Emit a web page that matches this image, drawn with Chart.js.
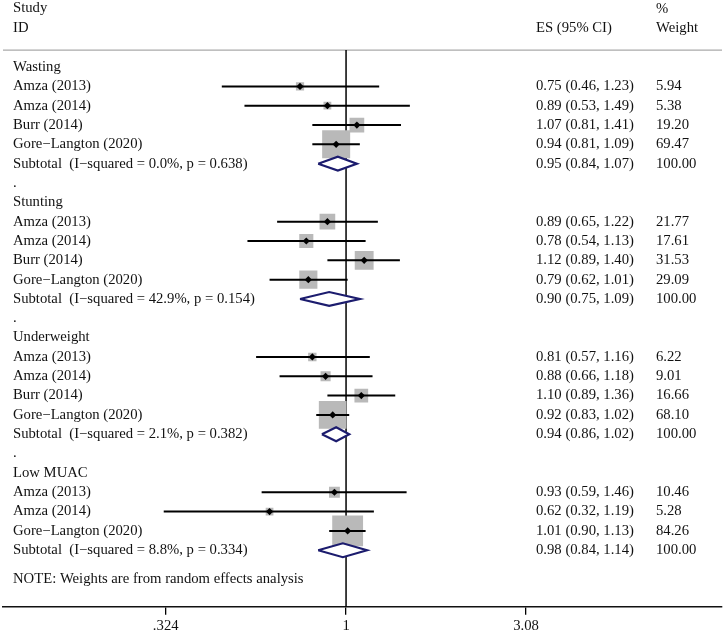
<!DOCTYPE html>
<html>
<head>
<meta charset="utf-8">
<script src="https://cdn.jsdelivr.net/npm/chart.js@4/dist/chart.umd.min.js"></script>
<style>
  body { margin: 0; background: #fff; }
  canvas { display: block; }
</style>
</head>
<body>
<canvas id="forest" width="725" height="635"></canvas>
<script>
// groups and studies
var groupNames = ['Wasting', 'Stunting', 'Underweight', 'Low MUAC'];
var studyNames = [
  'Amza (2013)', 'Amza (2014)', 'Burr (2014)', 'Gore\u2212Langton (2020)',
  'Amza (2013)', 'Amza (2014)', 'Burr (2014)', 'Gore\u2212Langton (2020)',
  'Amza (2013)', 'Amza (2014)', 'Burr (2014)', 'Gore\u2212Langton (2020)',
  'Amza (2013)', 'Amza (2014)', 'Gore\u2212Langton (2020)'
];
var studyGroup = [0, 0, 0, 0, 1, 1, 1, 1, 2, 2, 2, 2, 3, 3, 3];
var es     = [0.75, 0.89, 1.07, 0.94, 0.89, 0.78, 1.12, 0.79, 0.81, 0.88, 1.10, 0.92, 0.93, 0.62, 1.01];
var lower  = [0.46, 0.53, 0.81, 0.81, 0.65, 0.54, 0.89, 0.62, 0.57, 0.66, 0.89, 0.83, 0.59, 0.32, 0.90];
var upper  = [1.23, 1.49, 1.41, 1.09, 1.22, 1.13, 1.40, 1.01, 1.16, 1.18, 1.36, 1.02, 1.46, 1.19, 1.13];
var weight = [5.94, 5.38, 19.20, 69.47, 21.77, 17.61, 31.53, 29.09, 6.22, 9.01, 16.66, 68.10, 10.46, 5.28, 84.26];

var subHet   = ['(I\u2212squared = 0.0%, p = 0.638)', '(I\u2212squared = 42.9%, p = 0.154)',
                '(I\u2212squared = 2.1%, p = 0.382)', '(I\u2212squared = 8.8%, p = 0.334)'];
var subEs    = [0.95, 0.90, 0.94, 0.98];
var subLower = [0.84, 0.75, 0.86, 0.84];
var subUpper = [1.07, 1.09, 1.02, 1.14];

var tickValues = [0.324, 1, 3.08];
var tickLabels = ['.324', '1', '3.08'];

var FONT = '"Liberation Serif", "Times New Roman", serif';
var FS = 14.7;
var NAVY = '#1c1c6e';
var BOXGREY = '#b9b9b9';

// lay out rows: group header, studies, subtotal, spacer "."
var textRows = [];
var studyRow = [];
var subRow = [];
var r = 0;
groupNames.forEach(function (g, gi) {
  textRows.push({ row: r, text: g });
  r++;
  studyGroup.forEach(function (sg, i) {
    if (sg === gi) {
      studyRow[i] = r;
      textRows.push({ row: r, text: studyNames[i], es: es[i], lo: lower[i], hi: upper[i], w: weight[i] });
      r++;
    }
  });
  subRow[gi] = r;
  textRows.push({ row: r, text: 'Subtotal  ' + subHet[gi], es: subEs[gi], lo: subLower[gi], hi: subUpper[gi], w: 100 });
  r++;
  if (gi < groupNames.length - 1) {
    textRows.push({ row: r, text: '.' });
    r++;
  }
});
var noteRow = r + 0.5;

// datasets built from the arrays
var boxPts = es.map(function (v, i) { return { x: v, y: studyRow[i] }; });
var boxRad = weight.map(function (w) { return 3.36 * Math.sqrt(w) / Math.SQRT2; });
var ciPts = [];
es.forEach(function (v, i) {
  ciPts.push({ x: lower[i], y: studyRow[i] }, { x: upper[i], y: studyRow[i] }, { x: null, y: null });
});
var dh = 0.36;
var diamondSets = subEs.map(function (v, gi) {
  var y = subRow[gi];
  return {
    type: 'line',
    data: [{ x: subLower[gi], y: y }, { x: v, y: y - dh }, { x: subUpper[gi], y: y }, { x: v, y: y + dh }, { x: subLower[gi], y: y }],
    borderColor: NAVY, borderWidth: 2.2, backgroundColor: '#fff',
    fill: 'shape', pointRadius: 0, tension: 0
  };
});

var forestText = {
  id: 'forestText',
  beforeDatasetsDraw: function (chart) {
    var c = chart.ctx, xs = chart.scales.x, ys = chart.scales.y;
    c.save();
    // header rule
    c.strokeStyle = '#aaaaaa';
    c.lineWidth = 1.2;
    c.beginPath();
    c.moveTo(xs.left, ys.getPixelForValue(-0.88));
    c.lineTo(xs.right, ys.getPixelForValue(-0.88));
    c.stroke();
    // line of no effect
    c.strokeStyle = '#000';
    c.lineWidth = 1.5;
    c.beginPath();
    c.moveTo(xs.getPixelForValue(1), ys.getPixelForValue(-0.88));
    c.lineTo(xs.getPixelForValue(1), chart.chartArea.bottom);
    c.stroke();
    c.restore();
  },
  afterDraw: function (chart) {
    var c = chart.ctx, ys = chart.scales.y;
    c.save();
    c.font = FS + 'px ' + FONT;
    c.fillStyle = '#111';
    c.textBaseline = 'middle';
    c.textAlign = 'left';
    var xL = 13, xEs = 536, xW = 656;
    c.fillText('Study', xL, ys.getPixelForValue(-3.06));
    c.fillText('ID', xL, ys.getPixelForValue(-2.02));
    c.fillText('%', xW, ys.getPixelForValue(-3.02));
    c.fillText('Weight', xW, ys.getPixelForValue(-2.02));
    c.fillText('ES (95% CI)', xEs, ys.getPixelForValue(-2.02));
    textRows.forEach(function (t) {
      var y = ys.getPixelForValue(t.row);
      c.fillText(t.text, xL, y);
      if (t.es !== undefined) {
        c.fillText(t.es.toFixed(2) + ' (' + t.lo.toFixed(2) + ', ' + t.hi.toFixed(2) + ')', xEs, y);
        c.fillText(t.w.toFixed(2), xW, y);
      }
    });
    c.fillText('NOTE: Weights are from random effects analysis', xL, ys.getPixelForValue(noteRow));
    c.restore();
  }
};

var ctx = document.getElementById('forest').getContext('2d');
var chart = new Chart(ctx, {
  type: 'line',
  data: {
    datasets: diamondSets.concat([
      {
        // point estimates
        data: boxPts, showLine: false,
        pointStyle: 'rectRot', pointRadius: 3.6, pointBackgroundColor: '#000', pointBorderWidth: 0
      },
      {
        // confidence intervals
        data: ciPts, borderColor: '#000', borderWidth: 2, pointRadius: 0, spanGaps: false, tension: 0
      },
      {
        // study weight boxes
        data: boxPts, showLine: false,
        pointStyle: 'rect', pointRadius: boxRad, pointBackgroundColor: BOXGREY, pointBorderWidth: 0
      }
    ])
  },
  options: {
    responsive: false,
    animation: false,
    devicePixelRatio: 1,
    layout: { autoPadding: false, padding: { left: 3, right: 3, top: 0, bottom: -1.5 } },
    plugins: { legend: { display: false }, tooltip: { enabled: false } },
    scales: {
      x: {
        type: 'logarithmic',
        position: 'bottom',
        min: 0.1172,
        max: 10.48,
        afterBuildTicks: function (scale) {
          scale.ticks = tickValues.map(function (v) { return { value: v }; });
        },
        grid: { drawOnChartArea: false, drawTicks: true, tickLength: 8, color: '#000', lineWidth: 1.3 },
        border: { display: true, color: '#111', width: 1.5 },
        ticks: {
          autoSkip: false, maxRotation: 0, padding: 2, color: '#111',
          font: { family: FONT, size: FS },
          callback: function (v, i) { return tickLabels[i]; }
        }
      },
      y: {
        type: 'linear',
        display: false,
        reverse: true,
        min: -3.47,
        max: 27.93
      }
    }
  },
  plugins: [forestText]
});
</script>
</body>
</html>
